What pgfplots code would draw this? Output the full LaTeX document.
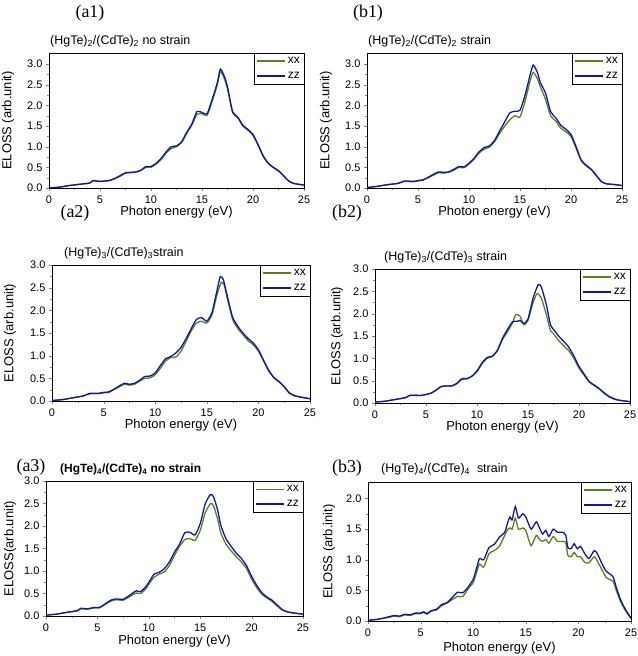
\documentclass[border=0pt]{standalone}
\usepackage{pgfplots}
\pgfplotsset{compat=1.18}
\usepackage{fontspec}
\setmainfont{Liberation Sans}
\newfontfamily\seriffont{Liberation Serif}
\definecolor{xxc}{RGB}{88,130,25}
\definecolor{zzc}{RGB}{20,20,165}
\pgfplotsset{
  ylpos/.style={ylabel style={at={(axis description cs:-#1,0.5)}}},
  panel/.style={
    scale only axis,
    xmin=0, xmax=25, ymin=0,
    xtick={0,5,...,25},
    minor x tick num=1, minor y tick num=1,
    tick align=outside, xtick pos=bottom, ytick pos=left,
    major tick length=3bp, minor tick length=2bp,
    /pgf/number format/assume math mode=true,
    ticklabel style={font=\fontsize{11}{12}\selectfont},
    xticklabel style={inner sep=1bp, yshift=-4bp},
    yticklabel style={/pgf/number format/.cd, fixed, fixed zerofill, precision=1},
    xlabel={Photon energy (eV)},
    label style={font=\fontsize{13}{14}\selectfont},
    xlabel style={at={(axis description cs:0.5,0)}, anchor=center, yshift=-24bp},
    ylabel style={at={(axis description cs:-0.16,0.5)}, anchor=center},
    title style={at={(0,1)}, anchor=south west, font=\fontsize{12.5}{13}\selectfont, inner sep=1bp, yshift=-1bp},
    legend style={at={(1,1)}, anchor=north east, font=\fontsize{12}{13}\selectfont, draw=black, inner sep=2bp, row sep=3bp, line width=0.5pt},
    legend cell align=left,
    legend image code/.code={\draw[#1, line width=1.3pt] (0bp,0bp) -- (28bp,0bp);},
    axis line style={line width=0.6pt},
    every axis plot/.append style={line width=1.3pt, smooth, tension=0.35},
  }
}
\begin{document}
\begin{tikzpicture}
\useasboundingbox (0,0) rectangle (638bp,656bp);
% ---------- (a1) ----------
\begin{axis}[panel, ylpos=0.161, at={(49bp,468bp)}, anchor=south west, width=255bp, height=135bp,
  ymax=3.27, ytick={0,0.5,...,3.0}, ylabel={ELOSS (arb.unit)},
  title={(HgTe)\textsubscript{2}/(CdTe)\textsubscript{2} no strain}]
\addplot[xxc] coordinates {(0,0) (1,0.02) (2,0.06) (3,0.09) (4,0.12) (4.3,0.17) (5,0.16) (5.5,0.17) (6,0.18) (6.5,0.23) (7,0.29) (7.5,0.36) (8,0.37) (8.5,0.38) (9,0.42) (9.5,0.50) (10,0.50) (10.5,0.58) (11,0.69) (11.5,0.85) (12,0.96) (12.5,1.00) (13,1.10) (13.5,1.32) (14,1.52) (14.5,1.78) (15,1.80) (15.5,1.76) (16,2.10) (16.5,2.50) (16.8,2.82) (17.2,2.64) (17.5,2.40) (18,1.82) (18.5,1.70) (19,1.50) (19.5,1.40) (20,1.27) (20.5,1.03) (21,0.76) (21.5,0.59) (22,0.49) (22.5,0.41) (23,0.29) (23.5,0.17) (24,0.11) (25,0.07)};
\addlegendentry{xx}
\addplot[zzc] coordinates {(0,0) (1,0.02) (2,0.06) (3,0.09) (4,0.12) (4.3,0.18) (5,0.16) (5.5,0.17) (6,0.19) (6.5,0.24) (7,0.30) (7.5,0.37) (8,0.38) (8.5,0.39) (9,0.43) (9.5,0.52) (10,0.52) (10.5,0.60) (11,0.72) (11.5,0.88) (12,1.00) (12.5,1.02) (13,1.12) (13.5,1.35) (14,1.55) (14.5,1.85) (15,1.83) (15.5,1.80) (16,2.15) (16.5,2.55) (16.8,2.88) (17.2,2.70) (17.5,2.45) (18,1.85) (18.5,1.72) (19,1.52) (19.5,1.42) (20,1.30) (20.5,1.05) (21,0.78) (21.5,0.60) (22,0.50) (22.5,0.42) (23,0.30) (23.5,0.17) (24,0.11) (25,0.07)};
\addlegendentry{zz}
\end{axis}
% ---------- (b1) ----------
\begin{axis}[panel, ylpos=0.161, at={(367bp,468bp)}, anchor=south west, width=255bp, height=135bp,
  ymax=3.27, ytick={0,0.5,...,3.0}, ylabel={ELOSS (arb.unit)},
  title={(HgTe)\textsubscript{2}/(CdTe)\textsubscript{2} strain}]
\addplot[xxc] coordinates {(0,0.01) (1,0.04) (2,0.08) (3,0.11) (3.7,0.16) (4.5,0.15) (5,0.17) (5.5,0.19) (6,0.25) (6.5,0.31) (7,0.37) (7.5,0.36) (8,0.38) (8.5,0.43) (9,0.50) (9.5,0.49) (10,0.58) (10.5,0.70) (11,0.85) (11.5,0.94) (12,0.99) (12.5,1.12) (13,1.32) (13.5,1.50) (14,1.65) (14.5,1.75) (15,1.72) (15.5,2.10) (16,2.60) (16.3,2.80) (16.7,2.65) (17,2.45) (17.5,2.15) (18,1.75) (18.5,1.62) (19,1.45) (19.5,1.36) (20,1.25) (20.5,0.96) (21,0.66) (21.5,0.53) (22,0.44) (22.5,0.29) (23,0.15) (23.5,0.10) (24,0.09) (25,0.06)};
\addlegendentry{xx}
\addplot[zzc] coordinates {(0,0.01) (1,0.04) (2,0.08) (3,0.11) (3.7,0.17) (4.5,0.16) (5,0.18) (5.5,0.20) (6,0.26) (6.5,0.33) (7,0.39) (7.5,0.38) (8,0.39) (8.5,0.45) (9,0.52) (9.5,0.51) (10,0.60) (10.5,0.72) (11,0.88) (11.5,0.98) (12,1.02) (12.5,1.15) (13,1.38) (13.5,1.60) (14,1.82) (14.5,1.86) (15,1.88) (15.5,2.25) (16,2.75) (16.3,2.98) (16.7,2.80) (17,2.55) (17.5,2.30) (18,1.85) (18.5,1.70) (19,1.52) (19.5,1.42) (20,1.30) (20.5,1.00) (21,0.68) (21.5,0.55) (22,0.45) (22.5,0.30) (23,0.15) (23.5,0.10) (24,0.09) (25,0.06)};
\addlegendentry{zz}
\end{axis}
% ---------- (a2) ----------
\begin{axis}[panel, ylpos=0.163, at={(52bp,255bp)}, anchor=south west, width=258bp, height=136bp,
  ymax=3.0, ytick={0,0.5,...,3.0}, ylabel={ELOSS (arb.unit)},
  title style={xshift=11bp},
  title={(HgTe)\textsubscript{3}/(CdTe)\textsubscript{3}strain}]
\addplot[xxc] coordinates {(0,0.01) (1,0.03) (2,0.07) (3,0.11) (3.7,0.16) (4.5,0.16) (5,0.18) (5.5,0.19) (6,0.25) (6.5,0.31) (7,0.37) (7.5,0.35) (8,0.37) (8.5,0.44) (9,0.50) (9.5,0.51) (10,0.58) (10.5,0.72) (11,0.88) (11.5,0.96) (12,0.97) (12.5,1.10) (13,1.32) (13.5,1.55) (14,1.72) (14.5,1.76) (15,1.72) (15.5,1.90) (16,2.35) (16.4,2.62) (16.7,2.55) (17,2.25) (17.5,1.80) (18,1.60) (18.5,1.46) (19,1.33) (19.5,1.24) (20,1.10) (20.5,0.88) (21,0.66) (21.5,0.51) (22,0.42) (22.5,0.31) (23,0.17) (23.5,0.11) (24,0.09) (25,0.05)};
\addlegendentry{xx}
\addplot[zzc] coordinates {(0,0.01) (1,0.03) (2,0.07) (3,0.11) (3.7,0.17) (4.5,0.17) (5,0.19) (5.5,0.20) (6,0.26) (6.5,0.33) (7,0.39) (7.5,0.37) (8,0.39) (8.5,0.46) (9,0.54) (9.5,0.55) (10,0.62) (10.5,0.78) (11,0.93) (11.5,0.98) (12,1.06) (12.5,1.18) (13,1.38) (13.5,1.60) (14,1.80) (14.5,1.84) (15,1.76) (15.5,1.95) (16,2.45) (16.3,2.74) (16.6,2.68) (17,2.30) (17.5,1.85) (18,1.65) (18.5,1.50) (19,1.38) (19.5,1.28) (20,1.13) (20.5,0.90) (21,0.68) (21.5,0.52) (22,0.43) (22.5,0.32) (23,0.18) (23.5,0.12) (24,0.09) (25,0.05)};
\addlegendentry{zz}
\end{axis}
% ---------- (b2) ----------
\begin{axis}[panel, ylpos=0.149, at={(375bp,253bp)}, anchor=south west, width=255bp, height=134bp,
  ymax=3.0, ytick={0,0.5,...,3.0}, ylabel={ELOSS (arb.unit)},
  title style={xshift=8bp},
  title={(HgTe)\textsubscript{3}/(CdTe)\textsubscript{3} strain}]
\addplot[xxc] coordinates {(0,0.02) (1,0.04) (2,0.08) (3,0.12) (3.4,0.17) (4.5,0.17) (5,0.19) (5.5,0.22) (6,0.29) (6.5,0.37) (7,0.38) (7.5,0.38) (8,0.44) (8.5,0.55) (9,0.55) (9.5,0.60) (10,0.70) (10.5,0.88) (11,1.00) (11.5,1.04) (12,1.17) (12.5,1.42) (13,1.60) (13.5,1.80) (13.8,1.98) (14.2,1.95) (14.6,1.75) (15,1.85) (15.5,2.25) (15.9,2.45) (16.3,2.35) (16.8,1.98) (17.2,1.62) (17.5,1.55) (18,1.40) (18.5,1.28) (19,1.17) (19.5,1.00) (20,0.78) (20.5,0.62) (21,0.47) (21.5,0.39) (22,0.31) (22.5,0.21) (23,0.13) (23.5,0.08) (24,0.06) (25,0.03)};
\addlegendentry{xx}
\addplot[zzc] coordinates {(0,0.02) (1,0.04) (2,0.08) (3,0.12) (3.4,0.17) (4.5,0.17) (5,0.19) (5.5,0.22) (6,0.29) (6.5,0.37) (7,0.38) (7.5,0.38) (8,0.43) (8.5,0.53) (9,0.54) (9.5,0.60) (10,0.72) (10.5,0.90) (11,1.02) (11.5,1.05) (12,1.18) (12.5,1.45) (13,1.65) (13.5,1.82) (14,1.83) (14.2,1.85) (14.6,1.78) (15,1.88) (15.5,2.35) (16,2.65) (16.3,2.60) (16.8,2.20) (17.2,1.75) (17.5,1.65) (18,1.50) (18.5,1.38) (19,1.25) (19.5,1.05) (20,0.82) (20.5,0.65) (21,0.48) (21.5,0.40) (22,0.32) (22.5,0.22) (23,0.14) (23.5,0.09) (24,0.06) (25,0.03)};
\addlegendentry{zz}
\end{axis}
% ---------- (a3) ----------
\begin{axis}[panel, ylpos=0.14, at={(46bp,40bp)}, anchor=south west, width=257bp, height=135bp,
  ymax=3.0, ytick={0,0.5,...,3.0}, ylabel={ELOSS(arb.unit)},
  xlabel style={yshift=-1bp},
  title style={xshift=13bp, font=\fontsize{12}{13}\selectfont\bfseries},
  title={(HgTe)\textsubscript{4}/(CdTe)\textsubscript{4} no strain}]
\addplot[xxc] coordinates {(0,0.02) (1,0.04) (2,0.08) (3,0.11) (3.4,0.16) (4,0.15) (4.7,0.18) (5.2,0.18) (5.7,0.25) (6.3,0.33) (6.8,0.36) (7.5,0.35) (8,0.41) (8.5,0.48) (8.8,0.51) (9.2,0.50) (9.7,0.60) (10.2,0.77) (10.5,0.86) (11,0.93) (11.5,0.98) (12,1.12) (12.5,1.35) (13,1.55) (13.5,1.70) (14,1.72) (14.5,1.68) (15,1.90) (15.5,2.30) (16,2.50) (16.3,2.45) (16.7,2.15) (17,1.85) (17.5,1.60) (18,1.45) (18.5,1.32) (19,1.20) (19.5,1.06) (20,0.82) (20.5,0.63) (21,0.48) (21.5,0.40) (22,0.32) (22.5,0.22) (23,0.13) (23.5,0.09) (24,0.07) (25,0.04)};
\addlegendentry{xx}
\addplot[zzc] coordinates {(0,0.02) (1,0.04) (2,0.08) (3,0.12) (3.4,0.17) (4,0.16) (4.7,0.19) (5.2,0.19) (5.7,0.26) (6.3,0.35) (6.8,0.38) (7.5,0.37) (8,0.44) (8.5,0.52) (8.8,0.56) (9.2,0.54) (9.7,0.65) (10.2,0.82) (10.5,0.93) (11,0.97) (11.5,1.05) (12,1.20) (12.5,1.42) (13,1.60) (13.5,1.85) (14,1.86) (14.5,1.80) (15,2.05) (15.5,2.50) (16,2.70) (16.3,2.65) (16.7,2.35) (17,2.02) (17.5,1.72) (18,1.55) (18.5,1.40) (19,1.28) (19.5,1.12) (20,0.88) (20.5,0.68) (21,0.52) (21.5,0.42) (22,0.35) (22.5,0.24) (23,0.14) (23.5,0.09) (24,0.07) (25,0.04)};
\addlegendentry{zz}
\end{axis}
% ---------- (b3) ----------
\begin{axis}[panel, ylpos=0.148, at={(368bp,35bp)}, anchor=south west, width=263bp, height=139bp,
  ymax=2.27, ytick={0,0.5,...,2.0}, ylabel={ELOSS (arb.init)},
  xlabel style={yshift=-3bp},
  title style={xshift=12bp, yshift=1bp},
  title={(HgTe)\textsubscript{4}/(CdTe)\textsubscript{4}\ \ strain}]
\addplot[xxc] coordinates {(0,0.01) (1,0.03) (2,0.06) (2.5,0.08) (3,0.07) (3.5,0.10) (4,0.09) (4.5,0.12) (5,0.12) (5.3,0.14) (5.6,0.11) (6,0.16) (6.5,0.18) (7,0.25) (7.5,0.29) (8,0.35) (8.5,0.40) (9,0.40) (9.5,0.52) (10,0.63) (10.3,0.78) (10.6,0.93) (11,0.88) (11.5,1.10) (12,1.15) (12.5,1.22) (13,1.40) (13.3,1.50) (13.5,1.52) (13.7,1.50) (14,1.68) (14.3,1.50) (14.7,1.52) (15,1.48) (15.5,1.23) (16,1.40) (16.3,1.33) (16.6,1.30) (16.9,1.33) (17.2,1.27) (17.6,1.38) (18,1.30) (18.5,1.30) (18.8,1.28) (19,1.07) (19.3,1.05) (19.6,1.12) (19.9,1.05) (20.2,1.05) (20.6,0.96) (21,0.95) (21.5,1.05) (21.8,0.98) (22.2,0.85) (22.6,0.72) (22.9,0.68) (23.3,0.65) (23.6,0.50) (24,0.32) (24.5,0.16) (25,0.04)};
\addlegendentry{xx}
\addplot[zzc] coordinates {(0,0.01) (1,0.03) (2,0.07) (2.5,0.09) (3,0.08) (3.5,0.11) (4,0.10) (4.5,0.13) (5,0.13) (5.3,0.15) (5.6,0.12) (6,0.17) (6.5,0.19) (7,0.27) (7.5,0.30) (8,0.38) (8.5,0.47) (9,0.46) (9.5,0.55) (10,0.68) (10.3,0.85) (10.6,1.02) (11,1.00) (11.5,1.20) (12,1.25) (12.5,1.37) (13,1.45) (13.3,1.62) (13.5,1.70) (13.7,1.65) (14,1.87) (14.3,1.68) (14.7,1.75) (15,1.70) (15.5,1.50) (16,1.62) (16.3,1.52) (16.6,1.42) (16.9,1.48) (17.2,1.38) (17.6,1.50) (18,1.45) (18.5,1.45) (18.8,1.40) (19,1.20) (19.3,1.18) (19.6,1.26) (19.9,1.18) (20.2,1.22) (20.6,1.10) (21,1.02) (21.5,1.15) (21.8,1.10) (22.2,0.95) (22.6,0.82) (22.9,0.78) (23.3,0.72) (23.6,0.55) (24,0.35) (24.5,0.18) (25,0.05)};
\addlegendentry{zz}
\end{axis}
% ---------- panel labels ----------
\node[font=\seriffont\fontsize{18}{20}\selectfont] at (90bp,643bp) {(a1)};
\node[font=\seriffont\fontsize{18}{20}\selectfont] at (368bp,643bp) {(b1)};
\node[font=\seriffont\fontsize{18}{20}\selectfont] at (75bp,443bp) {(a2)};
\node[font=\seriffont\fontsize{18}{20}\selectfont] at (347bp,443bp) {(b2)};
\node[font=\seriffont\fontsize{18}{20}\selectfont] at (31bp,189bp) {(a3)};
\node[font=\seriffont\fontsize{18}{20}\selectfont] at (347bp,188bp) {(b3)};
\end{tikzpicture}
\end{document}
